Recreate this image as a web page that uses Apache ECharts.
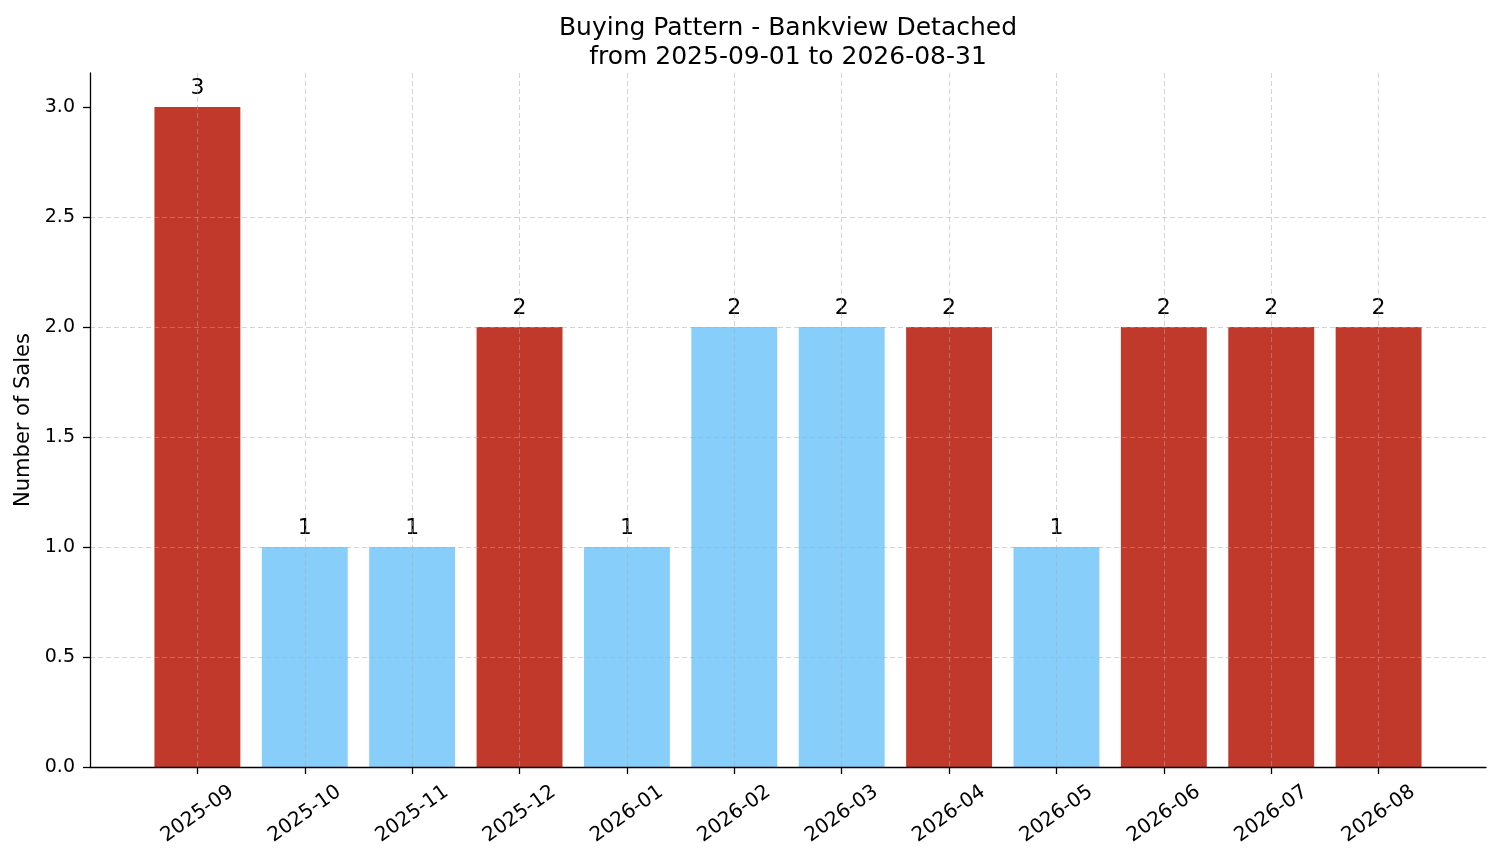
<!DOCTYPE html>
<html>
<head>
<meta charset="utf-8">
<title>Buying Pattern - Bankview Detached</title>
<script src="https://cdn.jsdelivr.net/npm/echarts@6/dist/echarts.min.js"></script>
<style>
    html, body { margin: 0; padding: 0; background: #fff; }
    #sales_chart { width: 1501px; height: 863px; }
</style>
</head>
<body>
<div id="sales_chart"></div>
<script>
// monthly sales, Bankview detached
var months = ['2025-09', '2025-10', '2025-11', '2025-12', '2026-01', '2026-02',
    '2026-03', '2026-04', '2026-05', '2026-06', '2026-07', '2026-08'];
var sales = [3, 1, 1, 2, 1, 2, 2, 2, 1, 2, 2, 2];
// true = red bar, false = light blue bar
var highlight = [true, false, false, true, false, false, false, true, false, true, true, true];
var yTicks = [0, 0.5, 1, 1.5, 2, 2.5, 3];

var RED = '#c0392b';
var BLUE = '#87cefa';
var FONT = 'DejaVu Sans';

function buildChart() {
    // empty slots at both ends give the matplotlib style margins
    var xData = [' '].concat(months).concat(['  ']);
    var barData = [];
    for (var i = 0; i < months.length; i++) {
        barData.push({
            value: [months[i], sales[i]],
            itemStyle: { color: highlight[i] ? RED : BLUE }
        });
    }
    var isMonth = function (idx) {
        return idx > 0 && idx < xData.length - 1;
    };
    var gridLine = { color: 'rgba(170,170,170,0.5)', width: 1, type: [5, 3] };

    var sales_chart = echarts.init(document.getElementById('sales_chart'));
    var option = {
        animation: false,
        backgroundColor: '#fff',
        textStyle: { fontFamily: FONT },
        title: {
            text: 'Buying Pattern - Bankview Detached\nfrom 2025-09-01 to 2026-08-31',
            left: 788,
            top: 14,
            textAlign: 'center',
            padding: 0,
            textStyle: {
                fontFamily: FONT,
                fontSize: 25,
                fontWeight: 'normal',
                color: '#000',
                lineHeight: 29
            }
        },
        grid: {
            left: 90, right: 15, top: 73, bottom: 96,
            containLabel: false,
            outerBoundsMode: 'none'
        },
        xAxis: {
            type: 'category',
            data: xData,
            boundaryGap: false,
            z: 10,
            axisLine: { lineStyle: { color: '#000', width: 1.3 } },
            axisTick: {
                interval: function (idx) { return isMonth(idx); },
                length: 7,
                lineStyle: { color: '#000', width: 1.3 }
            },
            axisLabel: {
                interval: function (idx) { return isMonth(idx); },
                rotate: 35,
                align: 'center',
                verticalAlign: 'middle',
                margin: 47,
                fontSize: 20,
                fontFamily: FONT,
                color: '#000'
            },
            splitLine: {
                show: true,
                interval: function (idx) { return isMonth(idx); },
                lineStyle: gridLine
            }
        },
        yAxis: {
            type: 'value',
            min: 0,
            max: 3.155,
            interval: 0.5,
            z: 10,
            name: 'Number of Sales',
            nameLocation: 'middle',
            nameRotate: 90,
            nameGap: 56,
            nameTextStyle: { fontFamily: FONT, fontSize: 21, color: '#000' },
            axisLine: { show: true, lineStyle: { color: '#000', width: 1.3 } },
            axisTick: {
                show: true,
                length: 7,
                customValues: yTicks,
                lineStyle: { color: '#000', width: 1.3 }
            },
            axisLabel: {
                customValues: yTicks,
                margin: 15,
                fontSize: 19,
                fontFamily: FONT,
                color: '#000',
                formatter: function (v) { return v.toFixed(1); }
            },
            splitLine: {
                show: true,
                showMinLine: false,
                showMaxLine: false,
                lineStyle: gridLine
            }
        },
        series: [{
            name: 'Sales',
            type: 'bar',
            barWidth: '80%',
            data: barData,
            label: {
                show: true,
                position: 'top',
                distance: 8,
                fontFamily: FONT,
                fontSize: 22,
                color: '#000'
            }
        }]
    };
    sales_chart.setOption(option);
}
buildChart();
</script>
</body>
</html>
